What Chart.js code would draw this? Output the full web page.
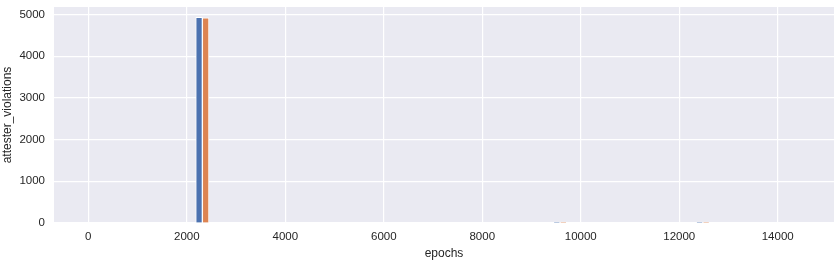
<!DOCTYPE html>
<html>
<head>
<meta charset="utf-8">
<script src="https://cdn.jsdelivr.net/npm/chart.js@4"></script>
<style>
  html, body { margin: 0; padding: 0; background: #fff; }
  #wrap { width: 839px; height: 261px; }
</style>
</head>
<body>
<div id="wrap"><canvas id="chart"></canvas></div>
<script>
// Valores
const epochs = [2316, 9580, 12480];
const violationsBlue = [4935, 20, 20];
const violationsOrange = [4920, 20, 20];
const xTicks = [0, 2000, 4000, 6000, 8000, 10000, 12000, 14000];
const yTicks = [0, 1000, 2000, 3000, 4000, 5000];

const plotBg = {
    id: 'plotBg',
    beforeDraw(chart) {
        const { ctx, chartArea: a } = chart;
        ctx.save();
        ctx.fillStyle = '#EAEAF2';
        ctx.fillRect(a.left, a.top, a.width, a.height);
        ctx.restore();
    }
};

Chart.defaults.font.family = "'Liberation Sans', Arial, sans-serif";
Chart.defaults.font.size = 11;
Chart.defaults.color = '#262626';

const toPoints = vals => epochs.map((e, i) => ({ x: e, y: vals[i] }));
const plain = v => String(v);

new Chart(document.getElementById('chart').getContext('2d'), {
    type: 'bar',
    data: {
        datasets: [
            {
                label: 'blue',
                data: toPoints(violationsBlue),
                backgroundColor: '#4C72B0',
                borderColor: '#ffffff',
                borderWidth: 1,
                barThickness: 6.6
            },
            {
                label: 'orange',
                data: toPoints(violationsOrange),
                backgroundColor: '#DD8452',
                borderColor: '#ffffff',
                borderWidth: 1,
                barThickness: 6.6
            }
        ]
    },
    options: {
        responsive: true,
        maintainAspectRatio: false,
        animation: false,
        layout: { padding: { top: 7, right: 5, left: 0, bottom: 0 } },
        plugins: {
            legend: { display: false },
            tooltip: { enabled: false }
        },
        scales: {
            x: {
                type: 'linear',
                offset: false,
                min: -697,
                max: 15143,
                afterBuildTicks: s => { s.ticks = xTicks.map(v => ({ value: v })); },
                afterFit: s => { s.height = 38; s.paddingRight = 0; },
                ticks: { padding: 7, maxRotation: 0, callback: plain, font: { size: 11.5 } },
                grid: { color: '#ffffff', lineWidth: 1.2, drawTicks: false, offset: false },
                border: { display: false },
                title: { display: true, text: 'epochs', font: { size: 12 }, padding: { top: 1, bottom: 0 } }
            },
            y: {
                min: 0,
                max: 5180,
                afterBuildTicks: s => { s.ticks = yTicks.map(v => ({ value: v })); },
                afterFit: s => { s.width = 54; s.paddingTop = 0; s.paddingBottom = 0; },
                ticks: { padding: 9, callback: plain, font: { size: 11.5 } },
                grid: { color: '#ffffff', lineWidth: 1.2, drawTicks: false },
                border: { display: false },
                title: { display: true, text: 'attester_violations', font: { size: 12 }, padding: { top: 0, bottom: 2 } }
            }
        }
    },
    plugins: [plotBg]
});
</script>
</body>
</html>
